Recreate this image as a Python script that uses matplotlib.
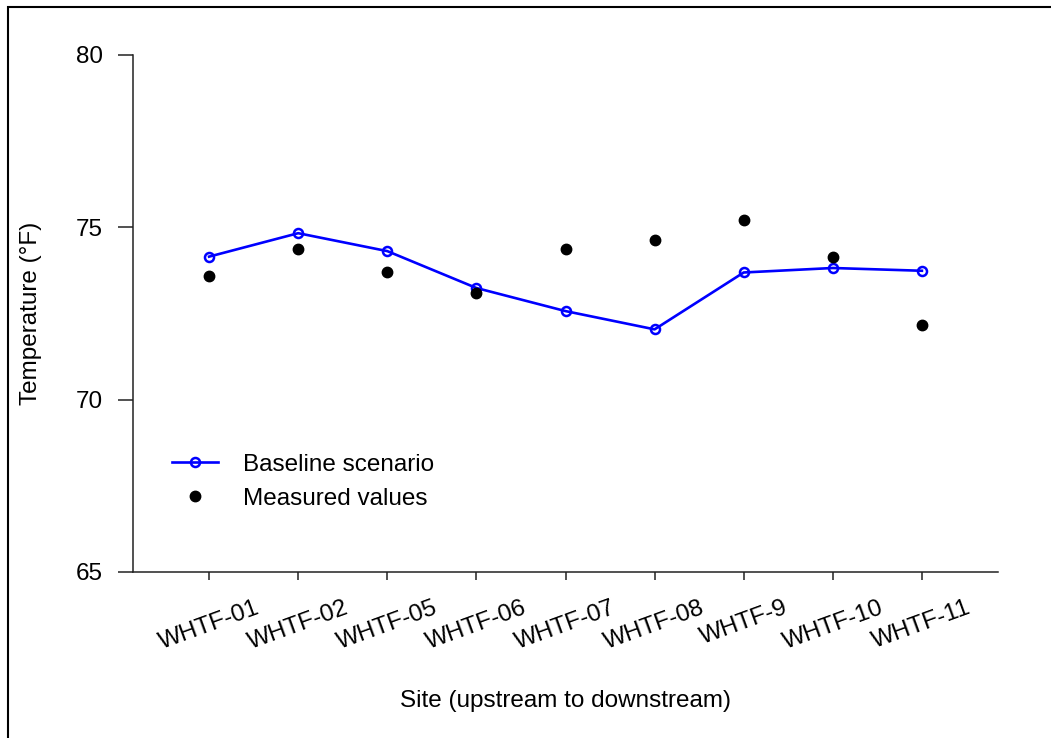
import numpy as np
import matplotlib.pyplot as plt
from matplotlib.patches import Rectangle
from matplotlib.lines import Line2D

plt.rcParams['font.family'] = ['Liberation Sans', 'DejaVu Sans']

# sites, upstream to downstream
sites = ['WHTF-01', 'WHTF-02', 'WHTF-05', 'WHTF-06', 'WHTF-07',
         'WHTF-08', 'WHTF-9', 'WHTF-10', 'WHTF-11']
baseline = [74.15, 74.83, 74.31, 73.24, 72.57, 72.04, 73.69, 73.82, 73.74]
measured = [73.59, 74.37, 73.70, 73.10, 74.37, 74.63, 75.22, 74.14, 72.16]
yticks = [65, 70, 75, 80]

x = np.arange(1, len(sites) + 1)

fig = plt.figure(figsize=(10.51, 7.38), dpi=100)
ax = fig.add_axes([133 / 1051, 1 - 572 / 738, (998 - 133) / 1051, (572 - 55) / 738])

ax.plot(x, baseline, color='#0000ff', lw=1.9, marker='o', ms=6.5,
        mfc='none', mec='#0000ff', mew=1.8, zorder=3)
ax.plot(x, measured, ls='none', marker='o', ms=7.5, color='black', zorder=4)

ax.set_xlim(0.146, 9.854)
ax.set_ylim(65, 80)
ax.set_yticks(yticks)
ax.set_xticks(x)
ax.set_xticklabels(sites, rotation=20, ha='center', fontsize=17.5)
ax.tick_params(axis='y', labelsize=17.5, length=10.8, width=1.1, pad=11, color='#222222')
ax.tick_params(axis='x', length=5.8, width=1.1, pad=12, color='#222222')
for s in ['top', 'right']:
    ax.spines[s].set_visible(False)
for s in ['left', 'bottom']:
    ax.spines[s].set_linewidth(1.1)
    ax.spines[s].set_color('#222222')

ax.set_ylabel('Temperature (°F)', fontsize=17.5, labelpad=24)
ax.set_xlabel('Site (upstream to downstream)', fontsize=17.5, labelpad=26)

handles = [
    Line2D([], [], color='#0000ff', lw=1.9, marker='o', ms=6.5, mfc='none',
           mec='#0000ff', mew=1.8),
    Line2D([], [], ls='none', marker='o', ms=7.5, color='black'),
]
ax.legend(handles, ['Baseline scenario', 'Measured values'], loc='upper left',
          bbox_to_anchor=(0.034, 0.248), frameon=False, fontsize=17.5,
          handlelength=1.9, handletextpad=1.0, labelspacing=0.5,
          borderaxespad=0)

# frame round the picture (only left and top edges show)
fig.patches.append(Rectangle((8 / 1051, -0.1), 1.2, 1 - 7 / 738 + 0.1,
                             transform=fig.transFigure, fill=False,
                             edgecolor='black', lw=1.5))

fig.savefig('out.png', dpi=100)
